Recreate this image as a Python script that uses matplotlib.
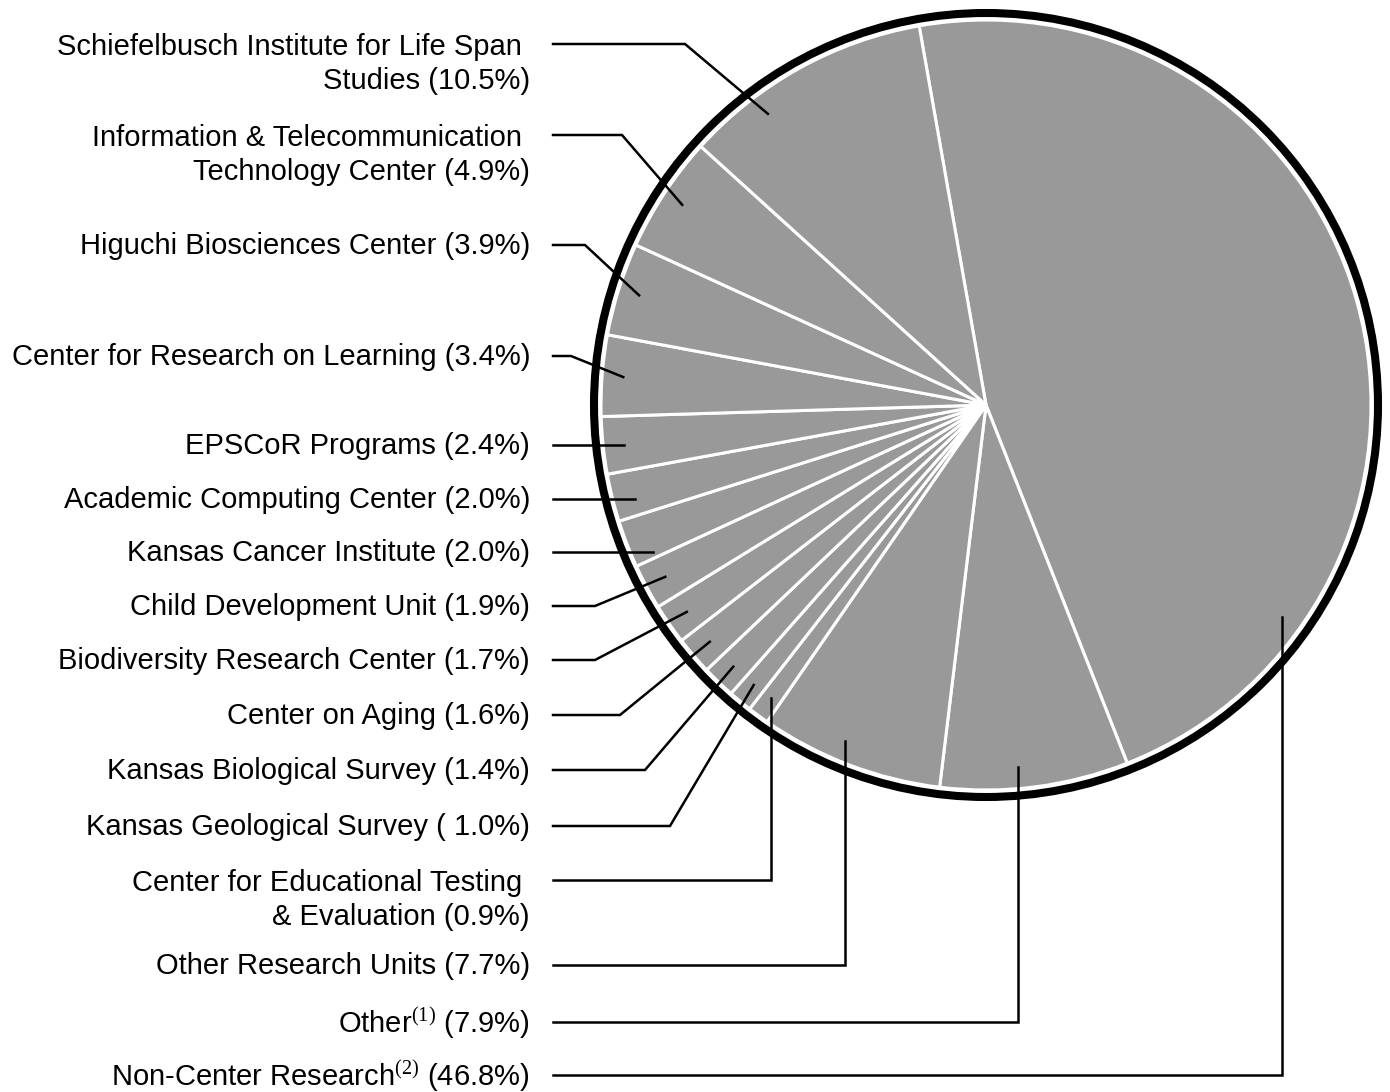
import numpy as np
import matplotlib.pyplot as plt

plt.rcParams['font.family'] = 'Liberation Sans'
plt.rcParams['mathtext.fontset'] = 'custom'
plt.rcParams['mathtext.rm'] = 'Liberation Serif'

W, H = 1390, 1092

# slices in drawing order, clockwise from the top ('#' gets the percentage)
names = [
    "Non-Center Research$^{\\mathrm{(2)}}$ (#%)",
    "Other$^{\\mathrm{(1)}}$ (#%)",
    "Other Research Units (#%)",
    "Center for Educational Testing \n& Evaluation (#%)",
    "Kansas Geological Survey ( #%)",
    "Kansas Biological Survey (#%)",
    "Center on Aging (#%)",
    "Biodiversity Research Center (#%)",
    "Child Development Unit (#%)",
    "Kansas Cancer Institute (#%)",
    "Academic Computing Center (#%)",
    "EPSCoR Programs (#%)",
    "Center for Research on Learning (#%)",
    "Higuchi Biosciences Center (#%)",
    "Information & Telecommunication \nTechnology Center (#%)",
    "Schiefelbusch Institute for Life Span \nStudies (#%)",
]
shares = [46.8, 7.9, 7.7, 0.9, 1.0, 1.4, 1.6, 1.7, 1.9, 2.0, 2.0, 2.4, 3.4, 3.9, 4.9, 10.5]

# label layout (pixels from the top), leader elbow: 'drop' = vertical, None = straight
label_y = [1075, 1022, 965, 880, 826, 770, 715, 660, 606, 552, 499, 445, 356, 245, 135, 44]
elbow_x = ['drop', 'drop', 'drop', 'drop', 670, 645, 620, 595, 595, None, None, None, 571, 585, 622, 685]
tip_frac = [0.195, 0.42, 0.43, 0.5, 0.5, 0.5, 0.5, 0.5, 0.5, 0.5, 0.5, 0.5, 0.5, 0.5, 0.5, 0.71]

cx, cy, R = 986, H - 405, 385

fig = plt.figure(figsize=(W / 100, H / 100), dpi=100)
ax = fig.add_axes([0, 0, 1, 1])

wedges, _ = ax.pie(shares, startangle=100, counterclock=False, center=(cx, cy), radius=R,
                   colors=['#999999'] * len(shares),
                   wedgeprops=dict(edgecolor='white', linewidth=2.2))
ax.add_patch(plt.Circle((cx, cy), R + 7, fill=False, edgecolor='black', linewidth=5.8))

x_text, x_line = 530, 553
for w, name, v, ly, ex, f in zip(wedges, names, shares, label_y, elbow_x, tip_frac):
    Y = H - ly
    ang = np.deg2rad(w.theta1 + f * (w.theta2 - w.theta1))
    rt = 0.945 * R
    tx, ty = cx + rt * np.cos(ang), cy + rt * np.sin(ang)
    if ex is None:
        tx, ty = cx - np.sqrt(rt ** 2 - (Y - cy) ** 2), Y
        xs, ys = [x_line, tx], [Y, Y]
    elif ex == 'drop':
        xs, ys = [x_line, tx, tx], [Y, Y, ty]
    else:
        xs, ys = [x_line, ex, tx], [Y, Y, ty]
    ax.plot(xs, ys, color='black', linewidth=1.8, solid_joinstyle='miter')

    text = name.replace('#', f"{v:.1f}")
    n_lines = text.count('\n') + 1
    ax.text(x_text, Y - 19 * (n_lines - 1) - 1, text, ha='right', va='center',
            multialignment='right', fontsize=21, linespacing=1.3)

ax.set_xlim(0, W)
ax.set_ylim(0, H)
ax.set_aspect('equal')
ax.set_axis_off()

fig.savefig('out.png', dpi=100)
